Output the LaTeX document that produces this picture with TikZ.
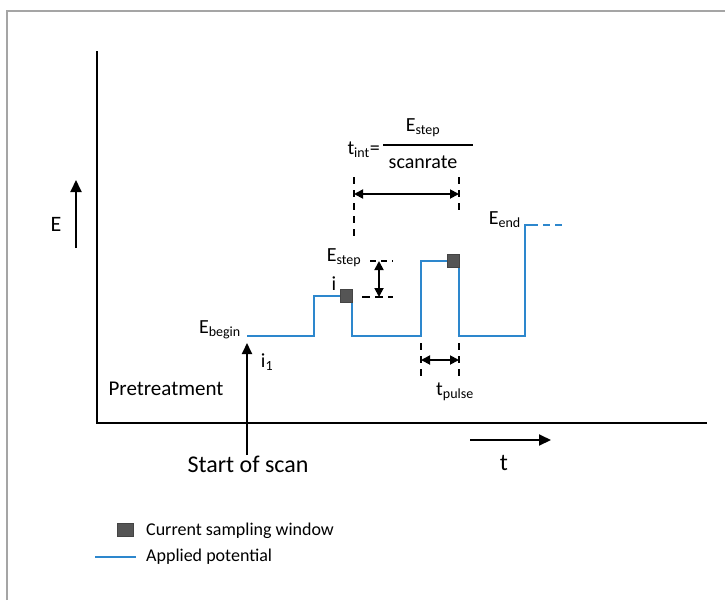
\documentclass[tikz,border=0pt]{standalone}
\usepackage{fontspec}
\setmainfont{Carlito}
\usetikzlibrary{arrows.meta}
\definecolor{potblue}{RGB}{45,135,205}
\definecolor{winfill}{RGB}{85,85,85}
\definecolor{framegray}{RGB}{165,165,165}
\tikzset{
  axisline/.style={line width=2.4pt, line cap=rect},
  potline/.style={potblue, line width=2pt},
  winbox/.style={draw=winfill!80!black, fill=winfill, line width=0.6pt},
  guide/.style={line width=1.8pt, dash pattern=on 7pt off 6pt},
  dimarrow/.style={line width=1.8pt, {Triangle[length=9pt,width=9pt]}-{Triangle[length=9pt,width=9pt]}},
  lbl/.style={inner sep=0pt, font=\fontsize{20}{22}\selectfont},
}
\begin{document}
\begin{tikzpicture}[x=1pt, y=-1pt]
\useasboundingbox (0,0) rectangle (725,600);
% frame
\draw[framegray, line width=2pt] (7,600) -- (7,11) -- (725,11);
% axes
\coordinate (ytop) at (97,52);
\coordinate (orig) at (97,423);
\coordinate (xend) at (706,423);
\draw[axisline] (ytop) -- (orig) -- (xend);
% E direction arrow
\coordinate (ea) at (76,248);
\coordinate (eb) at (76,180);
\draw[line width=2pt, -{Triangle[length=12pt,width=11pt]}] (ea) -- (eb);
\node[lbl, font=\fontsize{22}{24}\selectfont] (Elab) at (56,224) {E};
% applied potential staircase
\coordinate (p0) at (247,336);
\coordinate (p1) at (314,336);
\coordinate (p2) at (314,296);
\coordinate (p3) at (352,296);
\coordinate (p4) at (352,336);
\coordinate (p5) at (421,336);
\coordinate (p6) at (421,261);
\coordinate (p7) at (459,261);
\coordinate (p8) at (459,336);
\coordinate (p9) at (525,336);
\coordinate (p10) at (525,225);
\coordinate (p11) at (531,225);
\coordinate (p12) at (563,225);
\draw[potline] (p0) -- (p1) -- (p2) -- (p3) -- (p4) -- (p5) -- (p6) -- (p7) -- (p8) -- (p9) -- (p10) -- (p11);
\draw[potline, dash pattern=on 7pt off 5pt] (p11) -- (p12);
% current sampling windows
\node[winbox, minimum width=12pt, minimum height=13pt, inner sep=0pt, anchor=north east] (w1) at (353,289) {};
\node[winbox, minimum width=12pt, minimum height=13pt, inner sep=0pt, anchor=north east] (w2) at (460,254) {};
% t_int guides and arrow
\coordinate (g1a) at (354,177);
\coordinate (g1b) at (354,242);
\coordinate (g2a) at (459,177);
\coordinate (g2b) at (459,212);
\draw[guide] (g1a) -- (g1b);
\draw[guide] (g2a) -- (g2b);
\coordinate (ta) at (354,194);
\coordinate (tb) at (459,194);
\draw[dimarrow] (ta) -- (tb);
% t_int formula
\node[lbl, anchor=east] (tint) at (380,150) {t\textsubscript{int}=};
\coordinate (bara) at (383,145);
\coordinate (barb) at (473,145);
\draw[line width=1.6pt] (bara) -- (barb);
\node[lbl] (num) at (423,128) {E\textsubscript{step}};
\node[lbl] (den) at (423,162) {scanrate};
% E_step dimension
\coordinate (sa) at (370,261);
\coordinate (sb) at (393,261);
\coordinate (sc) at (362,297);
\coordinate (sd) at (393,297);
\draw[line width=1.6pt, dash pattern=on 6pt off 5pt] (sa) -- (sb);
\draw[line width=1.6pt, dash pattern=on 8pt off 5pt] (sc) -- (sd);
\coordinate (su) at (379,261);
\coordinate (sl) at (379,297);
\draw[dimarrow] (su) -- (sl);
\node[lbl] (Estep) at (344,258) {E\textsubscript{step}};
\node[lbl] (ilab) at (334,284) {i};
% labels on the potential
\node[lbl, anchor=east] (Ebegin) at (241,330) {E\textsubscript{begin}};
\node[lbl, anchor=east] (Eend) at (521,220) {E\textsubscript{end}};
\node[lbl] (i1) at (267,362) {i\textsubscript{1}};
% t_pulse guides and arrow
\coordinate (q1a) at (421,343);
\coordinate (q1b) at (421,380);
\coordinate (q2a) at (459,343);
\coordinate (q2b) at (459,380);
\draw[guide] (q1a) -- (q1b);
\draw[guide] (q2a) -- (q2b);
\coordinate (pa) at (421,360);
\coordinate (pb) at (459,360);
\draw[dimarrow] (pa) -- (pb);
\node[lbl] (tpulse) at (455,392) {t\textsubscript{pulse}};
% pretreatment and start of scan
\node[lbl, font=\fontsize{21}{23}\selectfont] (pre) at (166,389) {Pretreatment};
\coordinate (sstart) at (247,455);
\coordinate (stip) at (247,343);
\draw[line width=2pt, -{Triangle[length=11pt,width=10pt]}] (sstart) -- (stip);
\node[lbl, font=\fontsize{24}{26}\selectfont] (sos) at (248,464) {Start of scan};
% time direction arrow
\coordinate (tla) at (470,440);
\coordinate (tlb) at (551,440);
\draw[line width=2pt, -{Triangle[length=12pt,width=11pt]}] (tla) -- (tlb);
\node[lbl, font=\fontsize{24}{26}\selectfont] (tlab) at (504,463) {t};
% legend
\node[winbox, minimum width=16pt, minimum height=13pt, inner sep=0pt] (legw) at (125,530) {};
\node[lbl, anchor=west, font=\fontsize{18}{20}\selectfont] (legwt) at (146,531) {Current sampling window};
\coordinate (lla) at (95,557);
\coordinate (llb) at (136,557);
\draw[potline] (lla) -- (llb);
\node[lbl, anchor=west, font=\fontsize{18}{20}\selectfont] (legpt) at (146,557) {Applied potential};
\end{tikzpicture}
\end{document}
